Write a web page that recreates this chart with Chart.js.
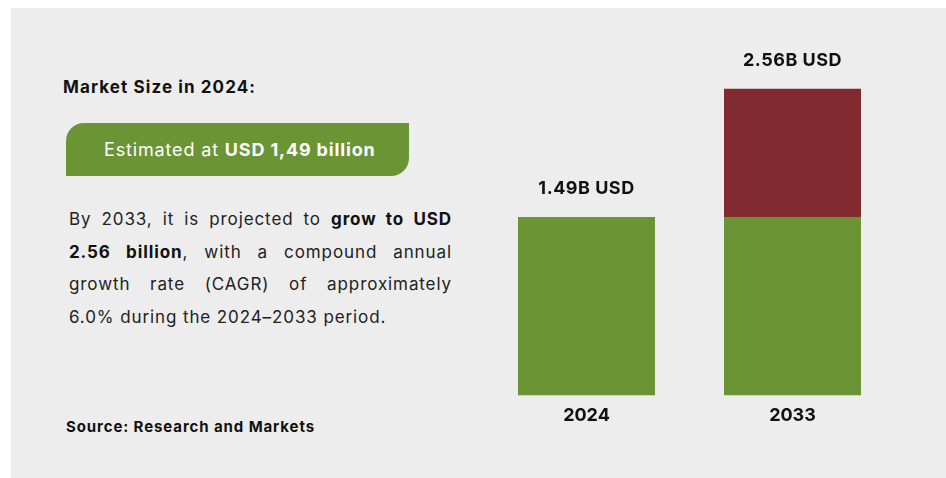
<!DOCTYPE html>
<html>
<head>
<meta charset="utf-8">
<script src="https://cdn.jsdelivr.net/npm/chart.js@4.4.1/dist/chart.umd.min.js"></script>
<style>
  html, body { margin: 0; padding: 0; background: #fff; }
  body { width: 946px; height: 478px; position: relative; overflow: hidden; font-family: Inter, "Open Sans", sans-serif; }
  #painel { position: absolute; left: 11px; top: 8px; width: 935px; height: 470px; background: #ededed; }
  #grafico { position: absolute; left: 0; top: 0; }
  .titulo { position: absolute; left: 63px; top: 77px; font-size: 17px; font-weight: 700; color: #111; letter-spacing: 1.1px; }
  .pilula { position: absolute; left: 66px; top: 123px; width: 305px; height: 53px; padding-left: 38px;
            background: #6b9535; color: #fff; font-size: 18px; line-height: 53px; border-radius: 18px 0 18px 0;
            letter-spacing: 0.85px; }
  .pilula b { font-weight: 700; }
  .texto { position: absolute; left: 69px; top: 203px; width: 383px; font-size: 17px; line-height: 32.5px;
           color: #222; letter-spacing: 0.9px; }
  .texto div { text-align: justify; text-align-last: justify; white-space: nowrap; }
  .texto div:last-child { text-align-last: left; }
  .texto b { font-weight: 700; color: #111; }
  .fonte { position: absolute; left: 66px; top: 417px; font-size: 15px; font-weight: 700; color: #111; letter-spacing: 0.9px; }
</style>
</head>
<body>
<div id="painel"></div>
<div class="titulo">Market Size in 2024:</div>
<div class="pilula">Estimated at <b>USD 1,49 billion</b></div>
<div class="texto">
  <div>By 2033, it is projected to <b>grow to USD</b></div>
  <div><b>2.56 billion</b>, with a compound annual</div>
  <div>growth rate (CAGR) of approximately</div>
  <div>6.0% during the 2024–2033 period.</div>
</div>
<div class="fonte">Source: Research and Markets</div>
<canvas id="grafico" width="946" height="478"></canvas>

<script>
// anos e valores (bilhões de USD)
const anos = ['2024', '2033'];
const valorBase = [1.49, 1.49];
const crescimento = [0, 1.07];

const VERDE = '#6b9535';
const VERMELHO = '#812a2f';

/* rótulo do total em cima de cada coluna empilhada */
const rotuloTotal = {
  id: 'rotuloTotal',
  afterDatasetsDraw(chart) {
    const ctx = chart.ctx;
    const y = chart.scales.y;
    const meta = chart.getDatasetMeta(0);
    ctx.save();
    ctx.font = '700 18px Inter, "Open Sans", sans-serif';
    ctx.letterSpacing = '0.5px';
    ctx.fillStyle = '#111';
    ctx.textAlign = 'center';
    ctx.textBaseline = 'middle';
    anos.forEach((a, i) => {
      const total = valorBase[i] + crescimento[i];
      const x = meta.data[i].x;
      ctx.fillText(`${total.toFixed(2)}B USD`, x, y.getPixelForValue(total) - 28);
    });
    ctx.restore();
  }
};

new Chart(document.getElementById('grafico'), {
  type: 'bar',
  data: {
    labels: anos,
    datasets: [
      { data: valorBase, backgroundColor: VERDE },
      { data: crescimento, backgroundColor: VERMELHO }
    ]
  },
  options: {
    responsive: false,
    animation: false,
    layout: { padding: { left: 483.5, right: 50.5, top: 36, bottom: 43 } },
    datasets: { bar: { categoryPercentage: 1, barPercentage: 0.665 } },
    plugins: { legend: { display: false }, tooltip: { enabled: false } },
    scales: {
      x: {
        stacked: true,
        grid: { display: false, drawTicks: false },
        border: { display: false },
        ticks: { color: '#111', padding: 9, font: { family: 'Inter, "Open Sans", sans-serif', size: 18, weight: '700' } }
      },
      y: { stacked: true, display: false, min: 0, max: 3 }
    }
  },
  plugins: [rotuloTotal]
});
</script>
</body>
</html>
